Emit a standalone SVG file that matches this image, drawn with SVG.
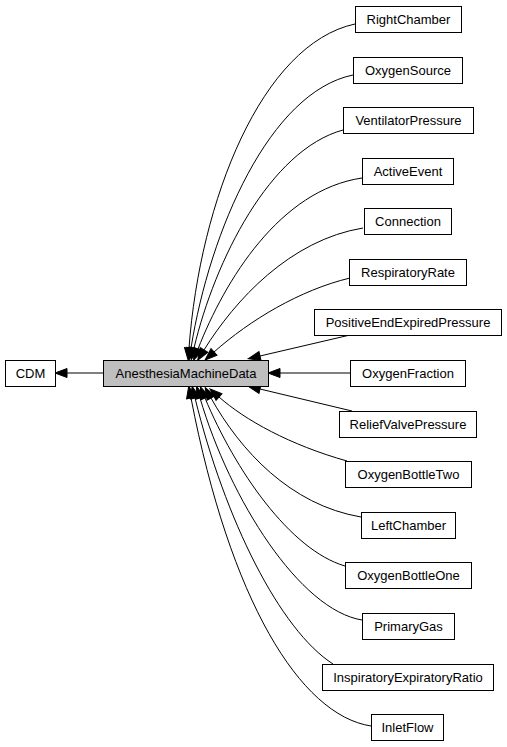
<svg xmlns="http://www.w3.org/2000/svg" width="507" height="747" viewBox="0 0 507 747">
<style>
.n rect{fill:#fff;stroke:#000;stroke-width:1}
.n.h rect{fill:#bfbfbf}
.n text{font-family:"Liberation Sans",Arial,sans-serif;font-size:13px;fill:#000;text-anchor:middle}
.e path{fill:none;stroke:#000;stroke-width:1;marker-end:url(#a)}
</style>
<defs>
<marker id="a" markerUnits="userSpaceOnUse" markerWidth="14" markerHeight="12" refX="0" refY="4.5" orient="auto" overflow="visible">
<polygon points="0,0 12,4.5 0,9" fill="#000" stroke="#000" stroke-width="1"/>
</marker>
</defs>
<rect width="507" height="747" fill="#fff"/>
<g id="edges" class="e">
<path d="M103,373 L67,373"/>
<path d="M355,24 C262,44 200,200 189,348"/>
<path d="M353,75 C270,92 210,230 191,348"/>
<path d="M343,130 C270,150 215,260 194,348"/>
<path d="M362,178 C280,190 225,280 198,349"/>
<path d="M363,228 C290,240 235,300 204,350"/>
<path d="M350,278 C300,290 250,320 214,352"/>
<path d="M350,335 L260,356"/>
<path d="M350,373 L280,373"/>
<path d="M352,411 L260,389"/>
<path d="M347,461 C290,445 245,420 219,397"/>
<path d="M361,517 C290,505 240,450 211,398"/>
<path d="M345,566 C290,550 235,470 205,398"/>
<path d="M362,620 C300,610 230,500 200,398"/>
<path d="M333,664 C280,630 225,520 195,398"/>
<path d="M371,726 C300,715 230,600 191,398"/>
</g>
<g id="CDM" class="n"><rect x="5.5" y="360.5" width="50" height="26"/><text x="30.5" y="378">CDM</text></g>
<g id="AnesthesiaMachineData" class="n h"><rect x="103.5" y="360.5" width="165" height="26"/><text x="186" y="378">AnesthesiaMachineData</text></g>
<g id="RightChamber" class="n"><rect x="355.5" y="6.5" width="106" height="26"/><text x="408.5" y="24">RightChamber</text></g>
<g id="OxygenSource" class="n"><rect x="353.5" y="57.5" width="109" height="26"/><text x="408" y="75">OxygenSource</text></g>
<g id="VentilatorPressure" class="n"><rect x="343.5" y="107.5" width="130" height="26"/><text x="408.5" y="125">VentilatorPressure</text></g>
<g id="ActiveEvent" class="n"><rect x="362.5" y="158.5" width="91" height="26"/><text x="408" y="176">ActiveEvent</text></g>
<g id="Connection" class="n"><rect x="364.5" y="208.5" width="87" height="26"/><text x="408" y="226">Connection</text></g>
<g id="RespiratoryRate" class="n"><rect x="349.5" y="259.5" width="117" height="26"/><text x="408" y="277">RespiratoryRate</text></g>
<g id="PositiveEndExpiredPressure" class="n"><rect x="314.5" y="309.5" width="187" height="26"/><text x="408" y="327">PositiveEndExpiredPressure</text></g>
<g id="OxygenFraction" class="n"><rect x="350.5" y="360.5" width="115" height="26"/><text x="408" y="378">OxygenFraction</text></g>
<g id="ReliefValvePressure" class="n"><rect x="339.5" y="411.5" width="137" height="26"/><text x="408" y="429">ReliefValvePressure</text></g>
<g id="OxygenBottleTwo" class="n"><rect x="345.5" y="461.5" width="126" height="26"/><text x="408.5" y="479">OxygenBottleTwo</text></g>
<g id="LeftChamber" class="n"><rect x="361.5" y="512.5" width="94" height="26"/><text x="408.5" y="530">LeftChamber</text></g>
<g id="OxygenBottleOne" class="n"><rect x="345.5" y="562.5" width="126" height="26"/><text x="408.5" y="580">OxygenBottleOne</text></g>
<g id="PrimaryGas" class="n"><rect x="362.5" y="613.5" width="92" height="26"/><text x="408.5" y="631">PrimaryGas</text></g>
<g id="InspiratoryExpiratoryRatio" class="n"><rect x="322.5" y="664.5" width="171" height="26"/><text x="408" y="682">InspiratoryExpiratoryRatio</text></g>
<g id="InletFlow" class="n"><rect x="371.5" y="714.5" width="72" height="26"/><text x="407.5" y="732">InletFlow</text></g>
</svg>
